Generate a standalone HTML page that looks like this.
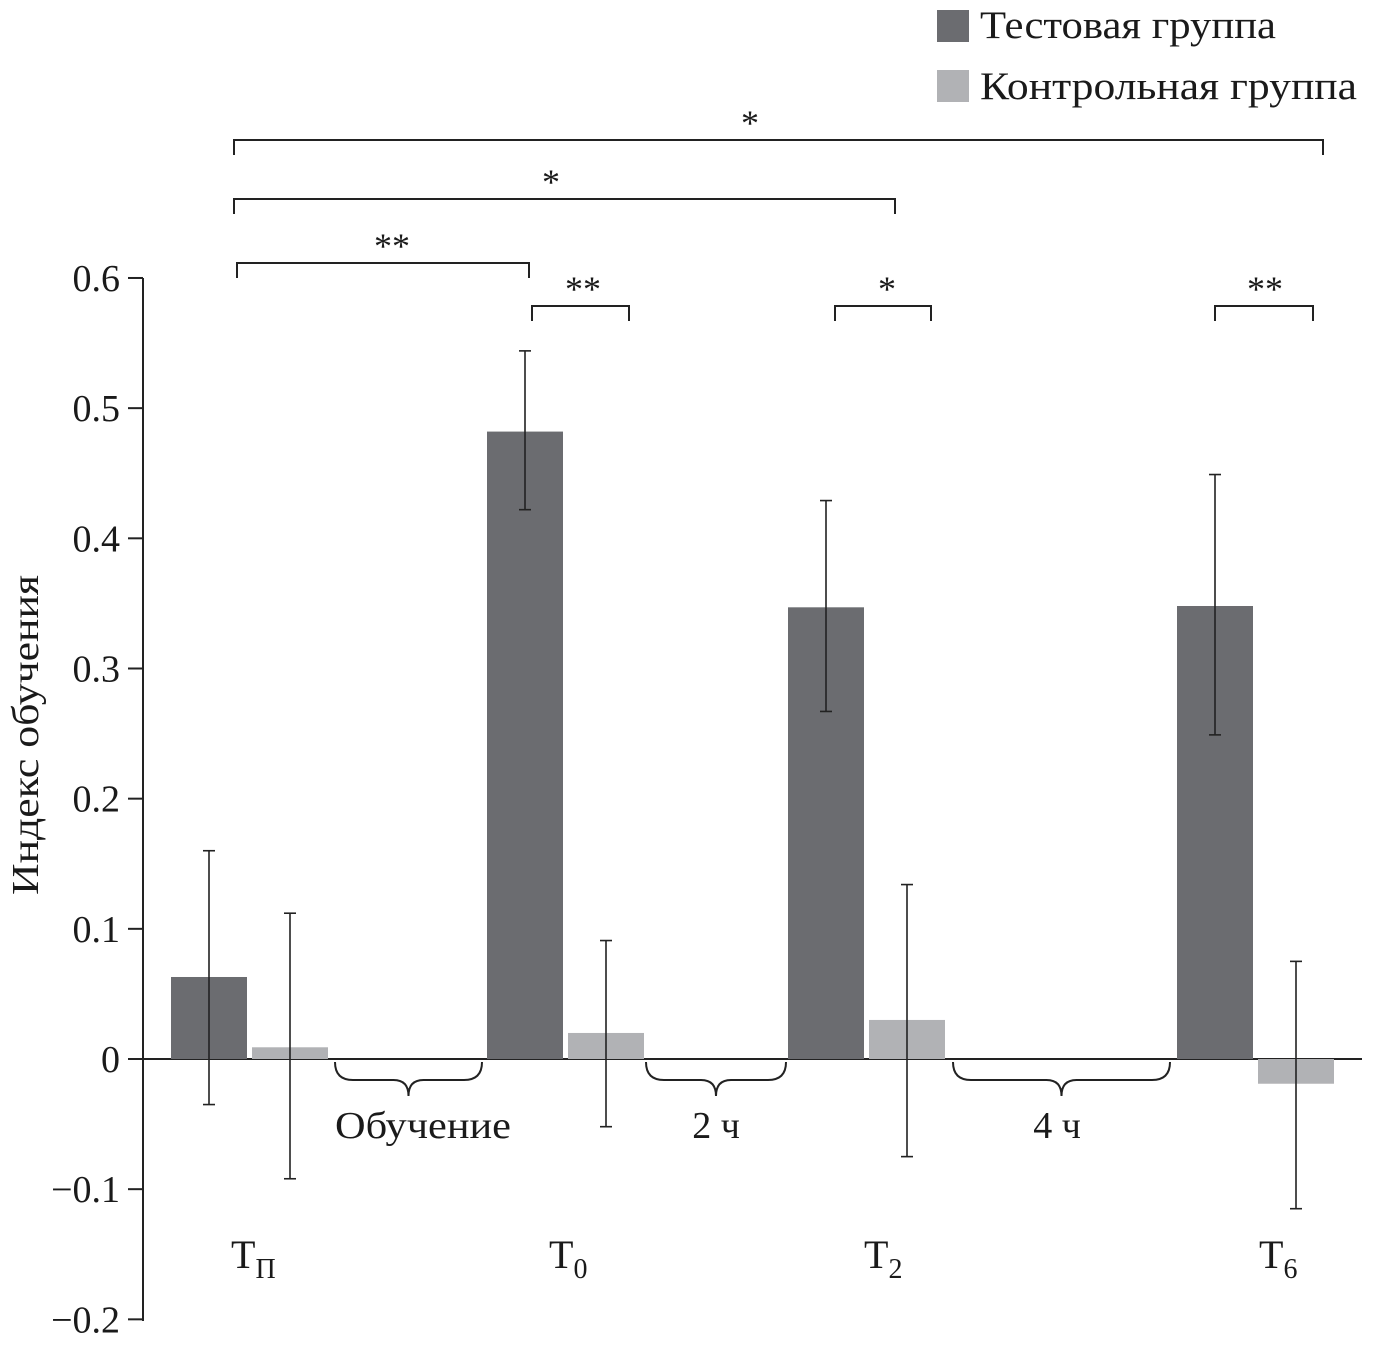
<!DOCTYPE html>
<html><head><meta charset="utf-8"><style>
html,body{margin:0;padding:0;background:#fff}
svg{display:block}
text{font-family:"Liberation Serif",serif;fill:#1a1a1a}
</style></head><body>
<svg id="chart" width="1374" height="1349" viewBox="0 0 1374 1349" xmlns="http://www.w3.org/2000/svg"></svg>
<script>
const categories = ["Tп","T0","T2","T6"];
const testValues = [0.063, 0.482, 0.347, 0.348];
const testErrHi = [0.160, 0.544, 0.429, 0.449];
const testErrLo = [-0.035, 0.422, 0.267, 0.249];
const ctrlValues = [0.009, 0.020, 0.030, -0.019];
const ctrlErrHi = [0.112, 0.091, 0.134, 0.075];
const ctrlErrLo = [-0.092, -0.052, -0.075, -0.115];
const yTicks = [0.6,0.5,0.4,0.3,0.2,0.1,0,-0.1,-0.2];
const yTickLabels = ["0.6","0.5","0.4","0.3","0.2","0.1","0","\u22120.1","\u22120.2"];

const svg = document.getElementById('chart');
const NS = 'http://www.w3.org/2000/svg';
function y(v){ return 1059 - v*1301.7; }
const groupX = [171, 487, 788, 1177];
const barW = 76, gap = 5;
function mk(tag, attrs, parent){ const e=document.createElementNS(NS,tag); for(const k in attrs) e.setAttribute(k,attrs[k]); (parent||svg).appendChild(e); return e; }
function line(x1,y1,x2,y2,w){ return mk('line',{x1,y1,x2,y2,stroke:'#222','stroke-width':w||2}); }

let ax = mk('line',{x1:143,y1:278,x2:143,y2:1321,stroke:'#222','stroke-width':2});


let zl = mk('line',{x1:143,y1:1059,x2:1362,y2:1059,stroke:'#222','stroke-width':2});


yTicks.forEach((t,i)=>{
  line(128,y(t),143,y(t),2);
  const tx = mk('text',{x:120,y:y(t)+13,'text-anchor':'end','font-size':38});
  tx.textContent = yTickLabels[i];
  
  
});
const yt = mk('text',{x:0,y:0,'text-anchor':'middle','font-size':38,textLength:320,lengthAdjust:'spacingAndGlyphs',transform:'translate(38,735) rotate(-90)'});
yt.textContent = 'Индекс обучения';



function errbar(cx,hi,lo){
  line(cx,y(hi),cx,y(lo),1.6);
  line(cx-6,y(hi),cx+6,y(hi),1.6);
  line(cx-6,y(lo),cx+6,y(lo),1.6);
}
categories.forEach((c,i)=>{
  const x0 = groupX[i];
  const tv = testValues[i];
  const b1 = mk('rect',{x:x0,y:Math.min(y(tv),y(0)),width:barW,height:Math.abs(y(tv)-y(0)),fill:'#6b6c70'});
  
  
  const cv = ctrlValues[i];
  const x1 = x0+barW+gap;
  const b2 = mk('rect',{x:x1,y:Math.min(y(cv),y(0)),width:barW,height:Math.abs(y(cv)-y(0)),fill:'#b1b2b5'});
  
  
  errbar(x0+barW/2,testErrHi[i],testErrLo[i]);
  errbar(x1+barW/2,ctrlErrHi[i],ctrlErrLo[i]);
});
const catX=[231,549,864,1259], subs=['П','0','2','6'];
catX.forEach((x,i)=>{
  const t = mk('text',{x:x,y:1268,'font-size':40});
  
  
  t.innerHTML = 'T<tspan font-size="28" dy="10">'+subs[i]+'</tspan>';
});
function brace(xa,xb,label,lx,lw){
  const m=(xa+xb)/2, t=1062, b=1080;
  mk('path',{d:`M${xa},${t} Q${xa},${b} ${xa+18},${b} L${m-15},${b} Q${m},${b} ${m},${b+16} Q${m},${b} ${m+15},${b} L${xb-18},${b} Q${xb},${b} ${xb},${t}`,fill:'none',stroke:'#222','stroke-width':2});
  const attrs = {x:lx,y:1138,'text-anchor':'middle','font-size':38};
  if(lw){ attrs.textLength=lw; attrs.lengthAdjust='spacingAndGlyphs'; }
  const tx = mk('text',attrs);
  tx.textContent = label;
  
  
}
brace(335,482,'Обучение',423,176); brace(646,786,'2 ч',716); brace(953,1170,'4 ч',1057);
function sig(xa,xb,yy,label,lx){
  mk('path',{d:`M${xa},${yy+15} L${xa},${yy} L${xb},${yy} L${xb},${yy+15}`,fill:'none',stroke:'#222','stroke-width':2});
  const tx = mk('text',{x:lx,y:yy-5,'text-anchor':'middle','font-size':36});
  tx.textContent = label;
  
  
}
sig(234,1323,140,'*',750); sig(234,895,199,'*',551); sig(237,529,263,'**',392);
sig(532,629,306,'**',583); sig(835,931,306,'*',887); sig(1215,1313,306,'**',1265);
const l1=mk('rect',{x:937,y:10,width:32,height:32,fill:'#6b6c70'});


const t1=mk('text',{x:980,y:38,'font-size':39,textLength:296,lengthAdjust:'spacingAndGlyphs'}); t1.textContent='Тестовая группа';


const l2=mk('rect',{x:937,y:70,width:32,height:32,fill:'#b1b2b5'});


const t2=mk('text',{x:980,y:99,'font-size':39,textLength:377,lengthAdjust:'spacingAndGlyphs'}); t2.textContent='Контрольная группа';


</script>
</body></html>
